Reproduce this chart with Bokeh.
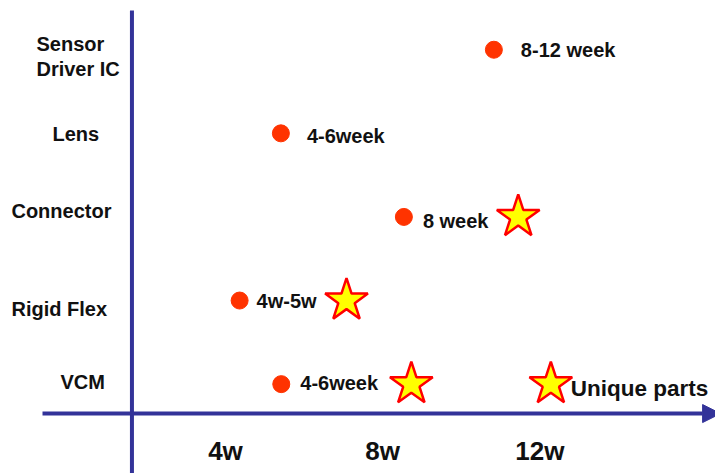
from bokeh.plotting import figure
from bokeh.models import Range1d, Arrow, NormalHead, ColumnDataSource
from bokeh.core.properties import value
from bokeh.embed import file_html
from bokeh.resources import INLINE

# ---------------- data ----------------
categories = ["VCM", "Rigid Flex", "Connector", "Lens", "Sensor\nDriver IC"]

dot_category = ["Sensor\nDriver IC", "Lens", "Connector", "Rigid Flex", "VCM"]
dot_weeks = [10.83, 5.41, 8.54, 4.36, 5.42]
dot_labels = ["8-12 week", "4-6week", "8 week", "4w-5w", "4-6week"]

star_category = ["Connector", "Rigid Flex", "VCM", "VCM"]
star_weeks = [11.45, 7.08, 8.73, 12.28]
star_labels = ["", "", "", "Unique parts"]

tick_weeks = [4, 8, 12]
tick_labels = ["4w", "8w", "12w"]

# ---------------- styling / layout ----------------
AXIS_C = "#333399"
DOT_C = "#FF3300"
FONT = value("Liberation Sans")
dot_label_dx = [27, 26, 19, 17, 19]
dot_label_dy = [0, 3, 4, 0, -1]
cat_label_dx = [-71.5, -120.5, -120.5, -79.5, -95.5]
cat_label_dy = [-2, 8, -6, 1, 7]
y_axis_x = 1.62      # week position of the vertical axis line
x_axis_y = -0.352    # row position of the horizontal axis line

def row(cat):
    return categories.index(cat)

p = figure(width=715, height=473, output_backend="svg", toolbar_location=None,
           x_range=Range1d(-1.725, 16.47), y_range=Range1d(-1.069, 4.589),
           x_axis_location=None, y_axis_location=None, min_border=0,
           outline_line_color=None)
p.xgrid.visible = False
p.ygrid.visible = False
p.background_fill_color = "white"
p.border_fill_color = "white"

# axes lines
p.segment(x0=[y_axis_x], y0=[4.469], x1=[y_axis_x], y1=[-1.2],
          line_color=AXIS_C, line_width=4)
p.add_layout(Arrow(end=NormalHead(size=18, fill_color=AXIS_C, line_color=AXIS_C),
                   x_start=-0.656, y_start=x_axis_y, x_end=16.6, y_end=x_axis_y,
                   line_color=AXIS_C, line_width=4))

# category labels
cat_src = ColumnDataSource(dict(x=[y_axis_x] * len(categories),
                                y=[row(c) for c in categories],
                                t=categories, dx=cat_label_dx, dy=cat_label_dy))
p.text(x="x", y="y", text="t", x_offset="dx", y_offset="dy", source=cat_src,
       text_font=FONT, text_font_style="bold", text_font_size="20px",
       text_align="left", text_baseline="middle", text_color="#111111",
       text_line_height=1.15)

# tick labels
p.text(x=tick_weeks, y=[x_axis_y] * len(tick_weeks), text=tick_labels, y_offset=37,
       text_font=FONT, text_font_style="bold", text_font_size="26px",
       text_align="center", text_baseline="middle", text_color="#111111")

# dots
dot_src = ColumnDataSource(dict(x=dot_weeks, y=[row(c) for c in dot_category],
                                t=dot_labels, dx=dot_label_dx, dy=dot_label_dy))
p.scatter(x="x", y="y", source=dot_src, size=17, marker="circle",
          fill_color=DOT_C, line_color=DOT_C)
p.text(x="x", y="y", text="t", x_offset="dx", y_offset="dy", source=dot_src,
       text_font=FONT, text_font_style="bold", text_font_size="20px",
       text_align="left", text_baseline="middle", text_color="#111111")

# stars
star_src = ColumnDataSource(dict(x=star_weeks, y=[row(c) for c in star_category],
                                 t=star_labels))
p.scatter(x="x", y="y", source=star_src, size=45, marker="star",
          fill_color="#FFFF00", line_color="#FF0000", line_width=2.5)
p.text(x="x", y="y", text="t", x_offset=20, y_offset=4, source=star_src,
       text_font=FONT, text_font_style="bold", text_font_size="22.5px",
       text_align="left", text_baseline="middle", text_color="#111111")

open("out.html", "w").write(file_html(p, INLINE))
